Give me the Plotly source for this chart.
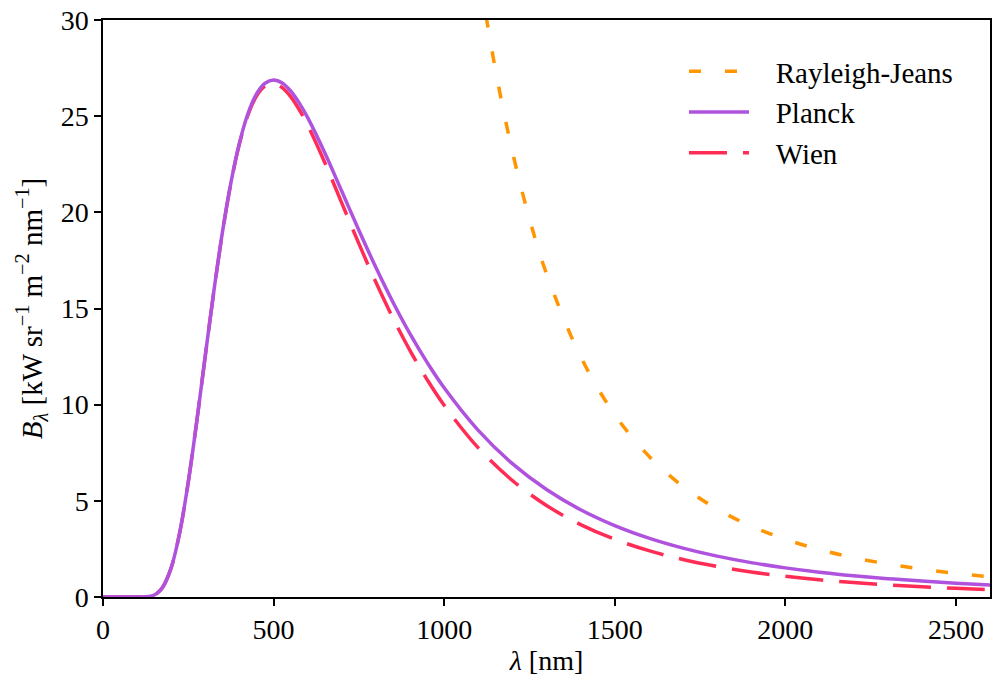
import plotly.graph_objects as go

# wavelength samples [nm] and spectral radiance [kW sr^-1 m^-2 nm^-1]
wl = [0, 50, 100, 125, 140, 150, 160, 175, 200, 225, 250, 275, 300, 325, 350, 375,
      400, 425, 450, 475, 500, 525, 550, 575, 600, 650, 700, 750, 800, 850, 900,
      950, 1000, 1100, 1200, 1300, 1400, 1500, 1600, 1700, 1800, 1900, 2000,
      2100, 2200, 2300, 2400, 2500, 2600]

planck = [0.0, 0.0, 0.0002, 0.0094, 0.0447, 0.103, 0.210, 0.507, 1.528, 3.363, 5.982,
          9.155, 12.567, 15.914, 18.958, 21.547, 23.612, 25.138, 26.154, 26.712,
          26.878, 26.724, 26.309, 25.690, 24.923, 23.097, 21.092, 19.070, 17.131,
          15.328, 13.682, 12.201, 10.878, 8.663, 6.934, 5.587, 4.536, 3.711, 3.059,
          2.540, 2.124, 1.788, 1.515, 1.291, 1.107, 0.954, 0.826, 0.719, 0.628]

wien = [0.0, 0.0, 0.0002, 0.0094, 0.0447, 0.103, 0.210, 0.507, 1.528, 3.363, 5.982,
        9.154, 12.564, 15.906, 18.942, 21.518, 23.564, 25.065, 26.048, 26.568,
        26.690, 26.487, 26.020, 25.346, 24.524, 22.589, 20.482, 18.372, 16.360,
        14.500, 12.813, 11.305, 9.967, 7.754, 6.057, 4.759, 3.765, 3.001, 2.410,
        1.950, 1.589, 1.304, 1.077, 0.895, 0.748, 0.629, 0.532, 0.452, 0.386]

wl_rj = [1050, 1100, 1150, 1200, 1250, 1300, 1400, 1500, 1600, 1700, 1800, 1900,
         2000, 2100, 2200, 2300, 2400, 2500, 2600]
rayleigh_jeans = [39.50, 32.79, 27.45, 23.16, 19.67, 16.81, 12.50, 9.484, 7.326, 5.749,
                  4.574, 3.684, 3.001, 2.469, 2.050, 1.716, 1.447, 1.229, 1.051]

x_ticks = [0, 500, 1000, 1500, 2000, 2500]
y_ticks = [0, 5, 10, 15, 20, 25, 30]

FONT = "Liberation Serif, Times New Roman, serif"
PAD = "\u00a0\u00a0\u00a0"

fig = go.Figure()
fig.add_trace(go.Scatter(x=wl, y=wien, mode="lines", name=PAD + "Wien", legendrank=3,
                         line=dict(color="#FF2D55", width=3.5, dash="38px,16px", shape="spline")))
fig.add_trace(go.Scatter(x=wl, y=planck, mode="lines", name=PAD + "Planck", legendrank=2,
                         line=dict(color="#AF52DE", width=3.5, shape="spline")))
fig.add_trace(go.Scatter(x=wl_rj, y=rayleigh_jeans, mode="lines", name=PAD + "Rayleigh-Jeans",
                         legendrank=1,
                         line=dict(color="#FF9500", width=3.5, dash="12px,24px", shape="spline")))

axis_common = dict(showgrid=False, zeroline=False, showline=True, mirror=True,
                   linecolor="black", linewidth=1.5, ticks="outside", ticklen=7,
                   tickwidth=1.5, tickcolor="black",
                   tickfont=dict(family=FONT, size=28, color="black"))

fig.update_xaxes(range=[0, 2600], tickvals=x_ticks, ticktext=[str(v) for v in x_ticks],
                 title=dict(text="<i>λ</i> [nm]", font=dict(family=FONT, size=28, color="black"),
                            standoff=6),
                 **axis_common)
fig.update_yaxes(range=[0, 30], tickvals=y_ticks, ticktext=[str(v) for v in y_ticks],
                 title=dict(text="<i>B</i><sub><i>λ</i></sub> [kW sr<sup>−1</sup> m<sup>−2</sup> nm<sup>−1</sup>]",
                            font=dict(family=FONT, size=29, color="black"), standoff=10),
                 **axis_common)

fig.update_layout(
    width=995, height=682,
    margin=dict(l=103, r=3, t=20, b=85),
    plot_bgcolor="white", paper_bgcolor="white",
    font=dict(family=FONT, size=28, color="black"),
    legend=dict(x=0.655, y=0.955, xanchor="left", yanchor="top",
                bgcolor="rgba(0,0,0,0)", font=dict(family=FONT, size=29, color="black"),
                itemwidth=60, tracegroupgap=0),
)

fig.write_html("out.html", config={"displayModeBar": False},
               post_script="document.body.style.margin='0';document.body.style.overflow='hidden';")
